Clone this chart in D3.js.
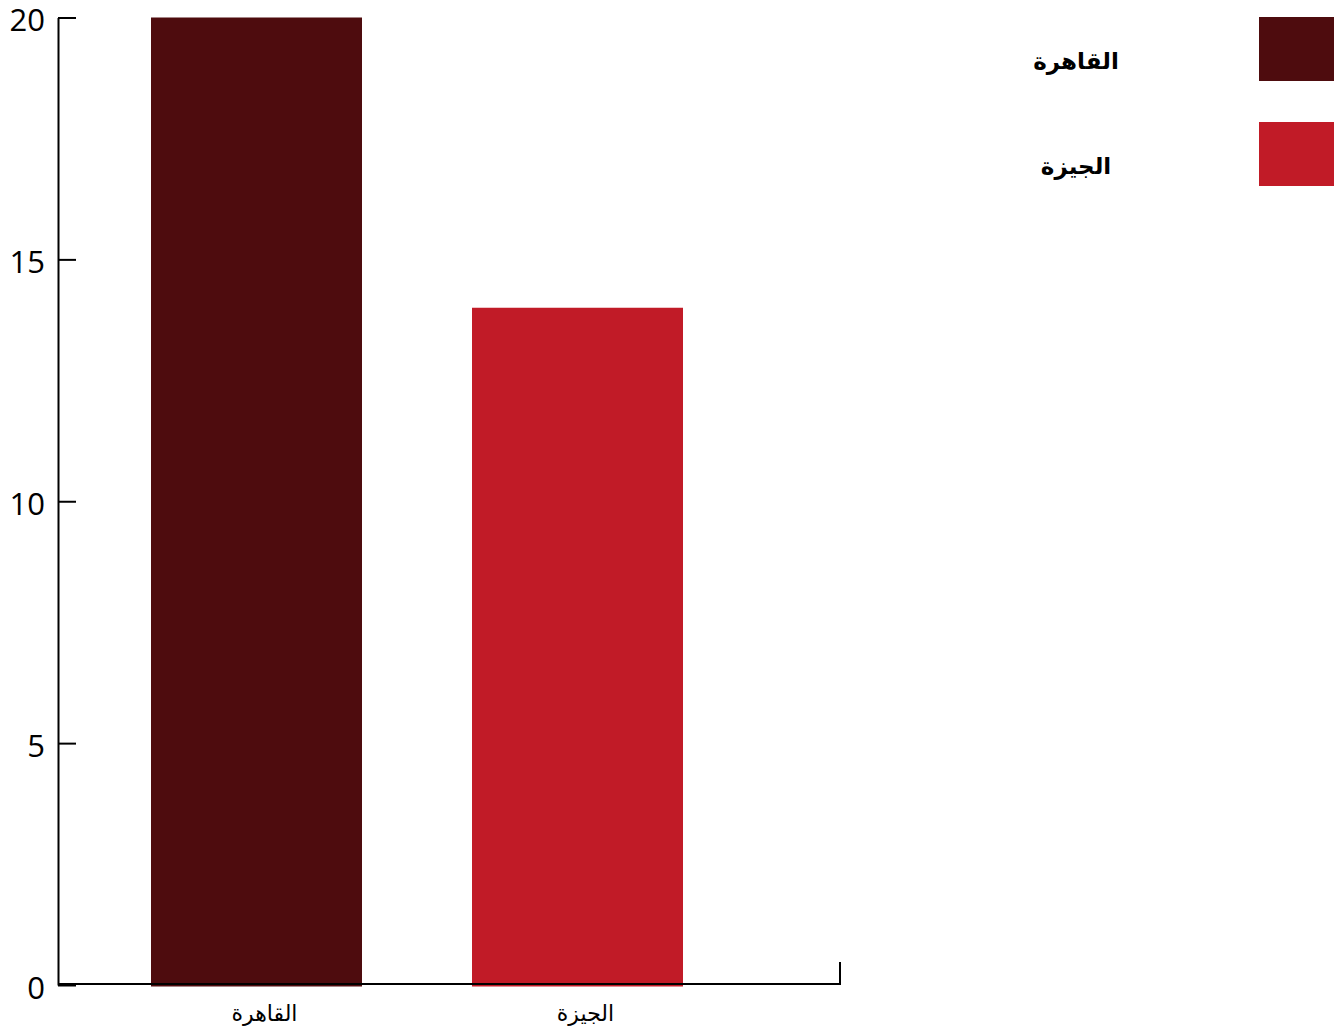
<!DOCTYPE html>
<html>
<head>
<meta charset="utf-8">
<script src="https://cdn.jsdelivr.net/npm/d3@7"></script>
<style>
  body { margin: 0; background: #fff; }
  svg { display: block; font-family: "Open Sans", "DejaVu Sans", sans-serif; }
</style>
</head>
<body>
<svg id="chart" width="1338" height="1033"></svg>
<script>
// data
var cities = ['القاهرة', 'الجيزة'];
var counts = [20, 14];
var colours = ['#4e0c0e', '#c11b27'];
var yTicks = [0, 5, 10, 15, 20];

var svg = d3.select('#chart');
// note: "top" is taken by window.top, so plot edges get their own names
var plotLeft = 58, plotRight = 840, plotTop = 17.5, plotBottom = 985;
var fontStack = '"Open Sans", "DejaVu Sans", sans-serif';

var y = d3.scaleLinear().domain([0, 20]).range([plotBottom, plotTop]);
var x = d3.scaleBand().domain(cities).range([151, 683]).paddingInner(0.3427).paddingOuter(0);
var colour = d3.scaleOrdinal().domain(cities).range(colours);

// bars
svg.selectAll('.bar')
  .data(cities)
  .enter().append('rect')
  .attr('class', 'bar')
  .attr('x', function (d) { return x(d); })
  .attr('width', x.bandwidth())
  .attr('y', function (d, i) { return y(counts[i]); })
  .attr('height', function (d, i) { return y(0) - y(counts[i]) + 1.5; })
  .style('fill', function (d) { return colour(d); });

// y axis, ticks pointing inward
var yAxis = svg.append('g')
  .attr('transform', 'translate(' + plotLeft + ',0)')
  .call(d3.axisLeft(y).tickValues(yTicks).tickSizeInner(-18).tickSizeOuter(0).tickPadding(13));
yAxis.attr('font-family', fontStack);
yAxis.selectAll('path, line').attr('stroke', '#000').attr('stroke-width', 2);
yAxis.selectAll('text').attr('fill', '#000').attr('dy', '0.42em').style('font-size', '31px');

// x axis labels only
var xAxis = svg.append('g')
  .attr('transform', 'translate(0,' + (plotBottom - 1) + ')')
  .call(d3.axisBottom(x).tickSize(0).tickPadding(21));
xAxis.attr('font-family', fontStack);
xAxis.select('.domain').remove();
xAxis.selectAll('text').attr('fill', '#000').attr('dx', 8).style('font-size', '22px');

// baseline with the upward end tick
svg.append('path')
  .attr('d', 'M' + plotLeft + ',' + (plotBottom - 1) + 'H' + plotRight + 'V' + (plotBottom - 23))
  .attr('fill', 'none')
  .attr('stroke', '#000')
  .attr('stroke-width', 2);

// legend
var ly = d3.scalePoint().domain(cities).range([17, 122]);
var legend = svg.selectAll('.legend')
  .data(cities)
  .enter().append('g')
  .attr('class', 'legend')
  .attr('transform', function (d) { return 'translate(0,' + ly(d) + ')'; });
legend.append('rect')
  .attr('x', 1259).attr('width', 75).attr('height', 64)
  .style('fill', function (d) { return colour(d); });
legend.append('text')
  .attr('x', 1076).attr('y', 52)
  .attr('text-anchor', 'middle')
  .style('font-size', '23px').style('font-weight', 'bold')
  .text(function (d) { return d; });
</script>
</body>
</html>
